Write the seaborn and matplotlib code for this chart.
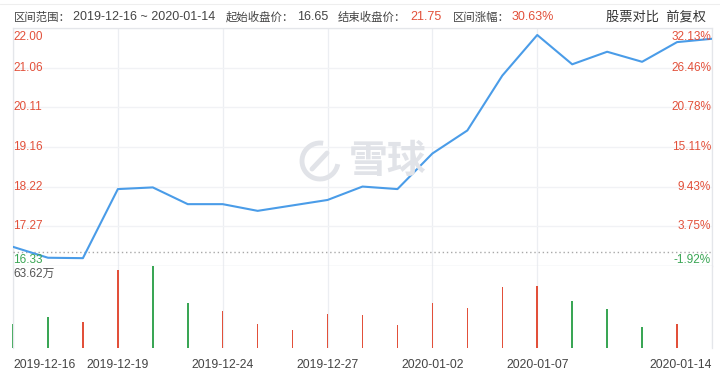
import numpy as np
import pandas as pd
import matplotlib.pyplot as plt
import matplotlib.patches as mpatches
import seaborn as sns

# daily closes and volumes (万)
dates = ['2019-12-16', '2019-12-17', '2019-12-18', '2019-12-19', '2019-12-20',
         '2019-12-23', '2019-12-24', '2019-12-25', '2019-12-26', '2019-12-27',
         '2019-12-30', '2019-12-31', '2020-01-02', '2020-01-03', '2020-01-06',
         '2020-01-07', '2020-01-08', '2020-01-09', '2020-01-10', '2020-01-13',
         '2020-01-14']
close = [16.78, 16.52, 16.51, 18.16, 18.20, 17.80, 17.80, 17.64, 17.77, 17.90,
         18.22, 18.16, 19.01, 19.56, 20.87, 21.84, 21.14, 21.44, 21.20, 21.67,
         21.75]
volume = [18.7, 24.4, 20.0, 60.3, 63.62, 34.6, 28.5, 18.7, 14.1, 26.7,
          25.7, 18.2, 34.6, 31.0, 47.2, 48.0, 36.2, 30.0, 16.2, 18.5, np.nan]
direction = ['down', 'down', 'up', 'up', 'down', 'down', 'up', 'up', 'up', 'up',
             'up', 'up', 'up', 'up', 'up', 'up', 'down', 'down', 'down', 'up',
             'up']

base_close = 16.65
end_close = 21.75
change = '30.63%'
price_ticks = ['22.00', '21.06', '20.11', '19.16', '18.22', '17.27', '16.33']
pct_ticks = ['32.13%', '26.46%', '20.78%', '15.11%', '9.43%', '3.75%', '-1.92%']
date_ticks = [0, 3, 6, 9, 12, 15, 20]
vol_max = '63.62万'

RED = '#e2503a'
GREEN = '#3aa655'
BLUE = '#4a9ce8'
GRID = '#eceef2'
TXT = '#444444'

df = pd.DataFrame({'date': dates, 'i': range(len(dates)), 'close': close,
                   'volume': volume, 'dir': direction})

sns.set_style('white')
plt.rcParams['font.family'] = ['Liberation Sans', 'Noto Sans CJK SC', 'DejaVu Sans']

W, H = 720, 373
fig = plt.figure(figsize=(W / 100, H / 100), dpi=100)
ax = fig.add_axes([13 / W, 1 - 265.7 / H, 699 / W, 237.4 / H])
axv = fig.add_axes([13 / W, 1 - 348.3 / H, 699 / W, 82.6 / H])

# price panel
sns.lineplot(data=df, x='i', y='close', ax=ax, color=BLUE, lw=1.5, zorder=5)
ax.axhline(base_close, color='#a8a8a8', ls=(0, (1, 2)), lw=1, zorder=3)
ymin, ymax = float(price_ticks[-1]), float(price_ticks[0])
ax.set_xlim(0, len(dates) - 1)
ax.set_ylim(ymin, ymax)
ax.set_yticks([float(t) for t in price_ticks])
ax.set_xticks(date_ticks)
ax.tick_params(left=False, bottom=False, labelleft=False, labelbottom=False)
ax.grid(True, axis='y', color='#f1f2f5', lw=1)
ax.grid(True, axis='x', color=GRID, lw=0.9)
ax.set_xlabel('')
ax.set_ylabel('')
for s in ax.spines.values():
    s.set_color('#e4e6ea')
    s.set_linewidth(0.9)

n = len(price_ticks)
for k, (pl, ql) in enumerate(zip(price_ticks, pct_ticks)):
    y = float(pl)
    va = 'top' if k == 0 else ('bottom' if k == n - 1 else 'center')
    col = GREEN if k == n - 1 else RED
    off = -3 if k == 0 else 0
    ax.annotate(pl, (0, y), xycoords=('axes fraction', 'data'),
                xytext=(0, off), textcoords='offset pixels',
                ha='left', va=va, color=col, fontsize=8.5, zorder=6)
    ax.annotate(ql, (1, y), xycoords=('axes fraction', 'data'),
                xytext=(-1, off), textcoords='offset pixels',
                ha='right', va=va, color=col, fontsize=8.5, zorder=6)

# watermark
wm = '#e1e3e8'
ring = mpatches.Arc((3.20, (H - 161) / 100), 0.36, 0.36, theta1=80, theta2=350,
                    transform=fig.dpi_scale_trans, ec=wm, lw=3.5, zorder=1)
ax.add_patch(ring)
ax.plot([3.12, 3.27], [(H - 169) / 100, (H - 153) / 100], transform=fig.dpi_scale_trans,
        color=wm, lw=3.5, zorder=1, solid_capstyle='round')
fig.text(388 / W, 1 - 161 / H, '雪球', ha='center', va='center', fontsize=28,
         color=wm, family=['Noto Sans CJK SC'], fontweight='bold', zorder=1)

# volume panel
sns.barplot(data=df, x='date', y='volume', hue='dir', order=dates,
            palette={'up': RED, 'down': GREEN}, dodge=False, width=0.045,
            saturation=1, errorbar=None, legend=False, linewidth=0, ax=axv)
axv.set_xlim(0, len(dates) - 1)
axv.set_ylim(0, np.nanmax(volume))
for p in axv.patches:
    p.set_clip_on(False)
axv.set_xticks(date_ticks)
axv.set_xticklabels([dates[i] for i in date_ticks])
for k, lab in enumerate(axv.get_xticklabels()):
    lab.set_ha('left' if k == 0 else ('right' if k == len(date_ticks) - 1 else 'center'))
axv.tick_params(left=False, bottom=False, labelleft=False, labelsize=8.7,
                labelcolor=TXT, pad=4)
axv.grid(True, axis='x', color=GRID, lw=0.9)
axv.set_xlabel('')
axv.set_ylabel('')
for name, s in axv.spines.items():
    s.set_color('#e4e6ea')
    s.set_linewidth(0.9)
axv.spines['bottom'].set_visible(False)
axv.spines['top'].set_visible(False)
axv.text(0.0, 0.97, vol_max, transform=axv.transAxes, ha='left', va='top',
         fontsize=8.5, color='#555555')

# header: (x px, text, colour, size)
hy = 1 - 17 / H
pieces = [
    (14, '区间范围：', TXT, 8.2),
    (73, dates[0] + ' ~ ' + dates[-1], TXT, 9),
    (226, '起始收盘价：', TXT, 8.2),
    (297, f'{base_close:.2f}', TXT, 9),
    (338, '结束收盘价：', TXT, 8.2),
    (410, f'{end_close:.2f}', RED, 9),
    (453, '区间涨幅：', TXT, 8.2),
    (512, change, RED, 9),
]
for px, s, c, f in pieces:
    fig.text(px / W, hy, s, ha='left', va='center', fontsize=f, color=c)
fig.text(706 / W, hy, '股票对比  前复权', ha='right', va='center', fontsize=9.5,
         color='#333333')
fig.add_artist(plt.Line2D([0, 1], [1 - 4 / H, 1 - 4 / H], color='#eeeeee', lw=0.8))

fig.savefig('out.png', dpi=100)
